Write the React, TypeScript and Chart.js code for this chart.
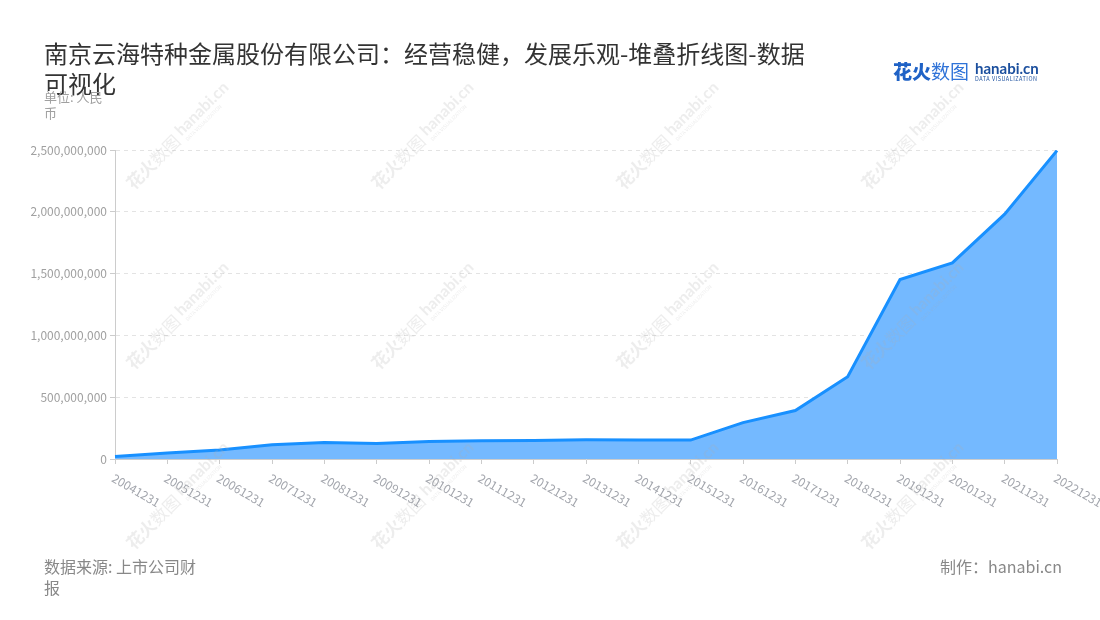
import React, { useEffect, useRef } from 'react';
import { Chart, registerables } from 'chart.js';

Chart.register(...registerables);

const FONT = '"Noto Sans CJK SC", "Noto Sans", sans-serif';

const categories = [
  '20041231', '20051231', '20061231', '20071231', '20081231', '20091231',
  '20101231', '20111231', '20121231', '20131231', '20141231', '20151231',
  '20161231', '20171231', '20181231', '20191231', '20201231', '20211231',
  '20221231',
];

const revenue = [
  21000000, 48000000, 72000000, 115000000, 134000000, 126000000,
  142000000, 147000000, 150000000, 155000000, 154000000, 153000000,
  294000000, 392000000, 665000000, 1452000000, 1586000000, 1981000000,
  2495000000,
];

const yTickValues = [0, 500000000, 1000000000, 1500000000, 2000000000, 2500000000];

const watermarkCols = [180, 425, 670, 915];
const watermarkRows = [135, 315, 495];

export default function App() {
  const ref = useRef<HTMLCanvasElement>(null);

  useEffect(() => {
    document.body.style.margin = '0';
    const canvas = ref.current;
    if (!canvas) return;

    const overlayPlugin = {
      id: 'overlay',
      afterDraw(chart: any) {
        const ctx = chart.ctx;
        const xs = chart.scales.x;
        ctx.save();
        ctx.font = `12px ${FONT}`;
        ctx.fillStyle = '#a3a6ad';
        ctx.textAlign = 'left';
        ctx.textBaseline = 'middle';
        categories.forEach((c, i) => {
          const x = xs.getPixelForTick(i);
          ctx.save();
          ctx.translate(x - 2, xs.top + 18);
          ctx.rotate(Math.PI / 6);
          ctx.fillText(c, 0, 0);
          ctx.restore();
        });
        // watermarks
        watermarkRows.forEach((wy) => {
          watermarkCols.forEach((wx) => {
            ctx.save();
            ctx.translate(wx, wy);
            ctx.rotate(-Math.PI / 4);
            ctx.fillStyle = 'rgba(175,175,175,0.22)';
            ctx.textBaseline = 'middle';
            ctx.textAlign = 'left';
            ctx.font = `bold 17px ${FONT}`;
            ctx.fillText('花火', -72, 0);
            ctx.font = `17px ${FONT}`;
            ctx.fillText('数图', -38, 0);
            ctx.font = `bold 16px Lato, ${FONT}`;
            ctx.fillText('hanabi.cn', 0, -3);
            ctx.font = `5px ${FONT}`;
            ctx.fillText('DATA VISUALIZATION', 1, 8);
            ctx.restore();
          });
        });
        ctx.restore();
      },
    };

    const chart = new Chart(canvas, {
      type: 'line',
      data: {
        labels: categories,
        datasets: [
          {
            label: '营业收入',
            data: revenue,
            borderColor: '#1890ff',
            backgroundColor: 'rgba(116,185,255,1)',
            borderWidth: 3,
            fill: 'origin',
            pointRadius: 0,
            pointHoverRadius: 0,
            tension: 0,
          },
        ],
      },
      options: {
        responsive: false,
        animation: false,
        layout: { padding: { top: 150, right: 43, left: 0, bottom: 0 } },
        plugins: {
          legend: { display: false },
          tooltip: { enabled: false },
        },
        scales: {
          x: {
            type: 'category',
            offset: false,
            grid: {
              drawOnChartArea: false,
              drawTicks: true,
              tickLength: 5,
              color: '#cccccc',
            },
            border: { display: true, color: '#cccccc', width: 1 },
            ticks: { display: false },
            afterFit(scale: any) {
              scale.height = 161;
            },
          },
          y: {
            min: 0,
            max: 2500000000,
            afterBuildTicks(scale: any) {
              scale.ticks = yTickValues.map((v) => ({ value: v }));
            },
            grid: {
              color: '#e3e3e3',
              tickColor: '#cccccc',
              tickLength: 5,
              drawTicks: true,
            },
            border: { display: true, color: '#cccccc', width: 1, dash: [4, 4] },
            ticks: {
              padding: 3,
              color: '#a0a0a0',
              font: { family: FONT, size: 12 },
              callback: (v: any) => Number(v).toLocaleString('en-US'),
            },
            afterFit(scale: any) {
              scale.width = 115;
            },
          },
        },
      },
      plugins: [overlayPlugin],
    });

    return () => chart.destroy();
  }, []);

  return (
    <div
      style={{
        position: 'relative',
        width: 1100,
        height: 620,
        background: '#ffffff',
        fontFamily: FONT,
        overflow: 'hidden',
      }}
    >
      <canvas
        ref={ref}
        width={1100}
        height={620}
        style={{ position: 'absolute', left: 0, top: 0, width: 1100, height: 620 }}
      />
      <div
        style={{
          position: 'absolute',
          left: 44,
          top: 38,
          width: 775,
          fontSize: 24,
          lineHeight: '30px',
          color: '#333333',
        }}
      >
        南京云海特种金属股份有限公司：经营稳健，发展乐观-堆叠折线图-数据可视化
      </div>
      <div
        style={{
          position: 'absolute',
          left: 44,
          top: 89,
          width: 68,
          fontSize: 13,
          lineHeight: '16px',
          color: '#a0a0a0',
        }}
      >
        单位: 人民币
      </div>
      <div
        style={{
          position: 'absolute',
          left: 893,
          top: 59,
          display: 'flex',
          alignItems: 'center',
          whiteSpace: 'nowrap',
        }}
      >
        <span style={{ fontSize: 19, color: '#1f62c6', fontWeight: 900, lineHeight: '24px' }}>花火</span>
        <span style={{ fontSize: 19, color: '#2f73d8', fontWeight: 400, lineHeight: '24px' }}>数图</span>
        <div style={{ marginLeft: 6, display: 'flex', flexDirection: 'column' }}>
          <span
            style={{
              fontSize: 15,
              fontWeight: 700,
              color: '#1b4f9e',
              lineHeight: '16px',
              fontFamily: 'Lato, sans-serif',
            }}
          >
            hanabi.cn
          </span>
          <span style={{ fontSize: 5.5, letterSpacing: 0.5, color: '#1b4f9e', lineHeight: '7px' }}>
            DATA VISUALIZATION
          </span>
        </div>
      </div>
      <div
        style={{
          position: 'absolute',
          left: 44,
          top: 556,
          width: 160,
          fontSize: 16,
          lineHeight: '21px',
          color: '#888888',
        }}
      >
        数据来源: 上市公司财报
      </div>
      <div
        style={{
          position: 'absolute',
          right: 38,
          top: 556,
          fontSize: 16,
          lineHeight: '21px',
          color: '#888888',
          whiteSpace: 'nowrap',
        }}
      >
        制作：hanabi.cn
      </div>
    </div>
  );
}
